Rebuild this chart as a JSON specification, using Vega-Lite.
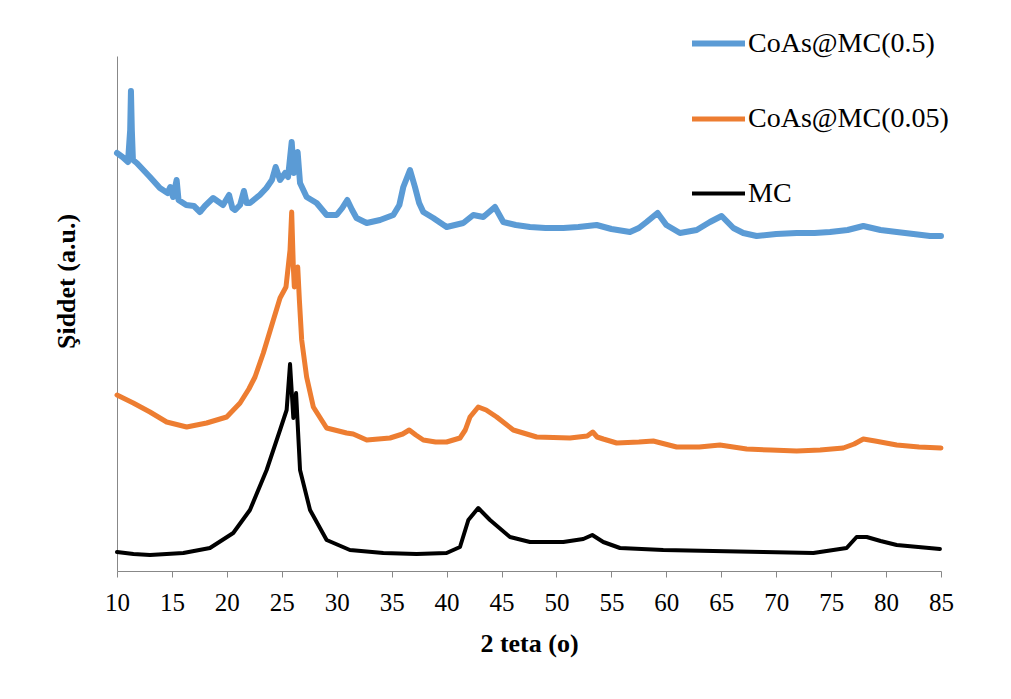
{
  "$schema": "https://vega.github.io/schema/vega-lite/v6.json",
  "width": 824,
  "height": 515,
  "autosize": {"type": "none"},
  "padding": {"left": 117, "top": 56, "right": 70, "bottom": 128},
  "background": "white",
  "config": {
    "view": {"stroke": null},
    "font": "Liberation Serif",
    "axis": {"grid": false, "domainColor": "#888888", "tickColor": "#888888", "labelColor": "#000000", "titleColor": "#000000", "labelFont": "Liberation Serif", "titleFont": "Liberation Serif"}
  },
  "data": {"values": [
    {"x":10.0,"y":418,"s":"CoAs@MC(0.5)"},{"x":10.5,"y":414,"s":"CoAs@MC(0.5)"},{"x":11.0,"y":409,"s":"CoAs@MC(0.5)"},{"x":11.2,"y":441,"s":"CoAs@MC(0.5)"},{"x":11.27,"y":480,"s":"CoAs@MC(0.5)"},{"x":11.35,"y":441,"s":"CoAs@MC(0.5)"},{"x":11.45,"y":411,"s":"CoAs@MC(0.5)"},{"x":11.8,"y":408,"s":"CoAs@MC(0.5)"},{"x":12.4,"y":401,"s":"CoAs@MC(0.5)"},{"x":13.0,"y":394,"s":"CoAs@MC(0.5)"},{"x":13.9,"y":383,"s":"CoAs@MC(0.5)"},{"x":14.6,"y":378,"s":"CoAs@MC(0.5)"},{"x":14.85,"y":384,"s":"CoAs@MC(0.5)"},{"x":15.1,"y":374,"s":"CoAs@MC(0.5)"},{"x":15.43,"y":391,"s":"CoAs@MC(0.5)"},{"x":15.6,"y":371,"s":"CoAs@MC(0.5)"},{"x":16.3,"y":366,"s":"CoAs@MC(0.5)"},{"x":17.0,"y":365,"s":"CoAs@MC(0.5)"},{"x":17.55,"y":359,"s":"CoAs@MC(0.5)"},{"x":18.0,"y":365,"s":"CoAs@MC(0.5)"},{"x":18.75,"y":373,"s":"CoAs@MC(0.5)"},{"x":19.65,"y":366,"s":"CoAs@MC(0.5)"},{"x":20.2,"y":376,"s":"CoAs@MC(0.5)"},{"x":20.5,"y":363,"s":"CoAs@MC(0.5)"},{"x":20.75,"y":361,"s":"CoAs@MC(0.5)"},{"x":21.2,"y":366,"s":"CoAs@MC(0.5)"},{"x":21.55,"y":380,"s":"CoAs@MC(0.5)"},{"x":21.8,"y":368,"s":"CoAs@MC(0.5)"},{"x":22.1,"y":368,"s":"CoAs@MC(0.5)"},{"x":23.0,"y":376,"s":"CoAs@MC(0.5)"},{"x":23.6,"y":383,"s":"CoAs@MC(0.5)"},{"x":24.1,"y":391,"s":"CoAs@MC(0.5)"},{"x":24.44,"y":404,"s":"CoAs@MC(0.5)"},{"x":24.84,"y":391,"s":"CoAs@MC(0.5)"},{"x":25.3,"y":398,"s":"CoAs@MC(0.5)"},{"x":25.57,"y":394,"s":"CoAs@MC(0.5)"},{"x":25.9,"y":429,"s":"CoAs@MC(0.5)"},{"x":26.1,"y":398,"s":"CoAs@MC(0.5)"},{"x":26.44,"y":419,"s":"CoAs@MC(0.5)"},{"x":26.66,"y":388,"s":"CoAs@MC(0.5)"},{"x":27.26,"y":374,"s":"CoAs@MC(0.5)"},{"x":28.17,"y":368,"s":"CoAs@MC(0.5)"},{"x":29.08,"y":356,"s":"CoAs@MC(0.5)"},{"x":29.99,"y":356,"s":"CoAs@MC(0.5)"},{"x":30.5,"y":363,"s":"CoAs@MC(0.5)"},{"x":30.96,"y":371,"s":"CoAs@MC(0.5)"},{"x":31.4,"y":361,"s":"CoAs@MC(0.5)"},{"x":31.8,"y":353,"s":"CoAs@MC(0.5)"},{"x":32.73,"y":348,"s":"CoAs@MC(0.5)"},{"x":33.94,"y":351,"s":"CoAs@MC(0.5)"},{"x":35.15,"y":356,"s":"CoAs@MC(0.5)"},{"x":35.7,"y":366,"s":"CoAs@MC(0.5)"},{"x":36.06,"y":384,"s":"CoAs@MC(0.5)"},{"x":36.67,"y":401,"s":"CoAs@MC(0.5)"},{"x":37.12,"y":384,"s":"CoAs@MC(0.5)"},{"x":37.5,"y":368,"s":"CoAs@MC(0.5)"},{"x":37.88,"y":359,"s":"CoAs@MC(0.5)"},{"x":38.79,"y":353,"s":"CoAs@MC(0.5)"},{"x":40.0,"y":344,"s":"CoAs@MC(0.5)"},{"x":41.52,"y":348,"s":"CoAs@MC(0.5)"},{"x":42.43,"y":356,"s":"CoAs@MC(0.5)"},{"x":43.34,"y":354,"s":"CoAs@MC(0.5)"},{"x":44.4,"y":364,"s":"CoAs@MC(0.5)"},{"x":45.16,"y":349,"s":"CoAs@MC(0.5)"},{"x":46.3,"y":346,"s":"CoAs@MC(0.5)"},{"x":47.59,"y":344,"s":"CoAs@MC(0.5)"},{"x":49.0,"y":343,"s":"CoAs@MC(0.5)"},{"x":50.62,"y":343,"s":"CoAs@MC(0.5)"},{"x":52.0,"y":344,"s":"CoAs@MC(0.5)"},{"x":53.66,"y":346,"s":"CoAs@MC(0.5)"},{"x":55.0,"y":342,"s":"CoAs@MC(0.5)"},{"x":56.69,"y":339,"s":"CoAs@MC(0.5)"},{"x":57.5,"y":343,"s":"CoAs@MC(0.5)"},{"x":58.2,"y":349,"s":"CoAs@MC(0.5)"},{"x":59.2,"y":358,"s":"CoAs@MC(0.5)"},{"x":60.0,"y":346,"s":"CoAs@MC(0.5)"},{"x":61.24,"y":338,"s":"CoAs@MC(0.5)"},{"x":62.76,"y":341,"s":"CoAs@MC(0.5)"},{"x":63.97,"y":349,"s":"CoAs@MC(0.5)"},{"x":65.03,"y":355,"s":"CoAs@MC(0.5)"},{"x":66.1,"y":343,"s":"CoAs@MC(0.5)"},{"x":67.0,"y":338,"s":"CoAs@MC(0.5)"},{"x":68.22,"y":335,"s":"CoAs@MC(0.5)"},{"x":70.0,"y":337,"s":"CoAs@MC(0.5)"},{"x":71.86,"y":338,"s":"CoAs@MC(0.5)"},{"x":73.5,"y":338,"s":"CoAs@MC(0.5)"},{"x":74.9,"y":339,"s":"CoAs@MC(0.5)"},{"x":76.5,"y":341,"s":"CoAs@MC(0.5)"},{"x":77.93,"y":345,"s":"CoAs@MC(0.5)"},{"x":79.5,"y":341,"s":"CoAs@MC(0.5)"},{"x":80.97,"y":339,"s":"CoAs@MC(0.5)"},{"x":82.5,"y":337,"s":"CoAs@MC(0.5)"},{"x":84.0,"y":335,"s":"CoAs@MC(0.5)"},{"x":85.0,"y":335,"s":"CoAs@MC(0.5)"},

    {"x":10.0,"y":176,"s":"CoAs@MC(0.05)"},{"x":11.48,"y":168,"s":"CoAs@MC(0.05)"},{"x":13.0,"y":159,"s":"CoAs@MC(0.05)"},{"x":14.52,"y":149,"s":"CoAs@MC(0.05)"},{"x":16.34,"y":144,"s":"CoAs@MC(0.05)"},{"x":18.16,"y":148,"s":"CoAs@MC(0.05)"},{"x":19.98,"y":154,"s":"CoAs@MC(0.05)"},{"x":21.2,"y":168,"s":"CoAs@MC(0.05)"},{"x":22.0,"y":182,"s":"CoAs@MC(0.05)"},{"x":22.56,"y":194,"s":"CoAs@MC(0.05)"},{"x":23.32,"y":218,"s":"CoAs@MC(0.05)"},{"x":24.23,"y":251,"s":"CoAs@MC(0.05)"},{"x":24.84,"y":273,"s":"CoAs@MC(0.05)"},{"x":25.38,"y":284,"s":"CoAs@MC(0.05)"},{"x":25.75,"y":321,"s":"CoAs@MC(0.05)"},{"x":25.9,"y":359,"s":"CoAs@MC(0.05)"},{"x":26.05,"y":304,"s":"CoAs@MC(0.05)"},{"x":26.14,"y":284,"s":"CoAs@MC(0.05)"},{"x":26.45,"y":304,"s":"CoAs@MC(0.05)"},{"x":26.6,"y":271,"s":"CoAs@MC(0.05)"},{"x":26.81,"y":231,"s":"CoAs@MC(0.05)"},{"x":27.26,"y":194,"s":"CoAs@MC(0.05)"},{"x":27.87,"y":164,"s":"CoAs@MC(0.05)"},{"x":29.08,"y":143,"s":"CoAs@MC(0.05)"},{"x":30.9,"y":138,"s":"CoAs@MC(0.05)"},{"x":31.5,"y":137,"s":"CoAs@MC(0.05)"},{"x":32.73,"y":131,"s":"CoAs@MC(0.05)"},{"x":34.85,"y":133,"s":"CoAs@MC(0.05)"},{"x":36.0,"y":137,"s":"CoAs@MC(0.05)"},{"x":36.6,"y":141,"s":"CoAs@MC(0.05)"},{"x":37.2,"y":136,"s":"CoAs@MC(0.05)"},{"x":37.88,"y":131,"s":"CoAs@MC(0.05)"},{"x":39.0,"y":129,"s":"CoAs@MC(0.05)"},{"x":40.0,"y":129,"s":"CoAs@MC(0.05)"},{"x":41.22,"y":133,"s":"CoAs@MC(0.05)"},{"x":41.7,"y":141,"s":"CoAs@MC(0.05)"},{"x":42.13,"y":154,"s":"CoAs@MC(0.05)"},{"x":42.88,"y":164,"s":"CoAs@MC(0.05)"},{"x":43.6,"y":161,"s":"CoAs@MC(0.05)"},{"x":44.56,"y":154,"s":"CoAs@MC(0.05)"},{"x":46.07,"y":141,"s":"CoAs@MC(0.05)"},{"x":48.2,"y":134,"s":"CoAs@MC(0.05)"},{"x":51.23,"y":133,"s":"CoAs@MC(0.05)"},{"x":52.8,"y":135,"s":"CoAs@MC(0.05)"},{"x":53.3,"y":139,"s":"CoAs@MC(0.05)"},{"x":53.7,"y":134,"s":"CoAs@MC(0.05)"},{"x":54.26,"y":132,"s":"CoAs@MC(0.05)"},{"x":55.48,"y":128,"s":"CoAs@MC(0.05)"},{"x":57.5,"y":129,"s":"CoAs@MC(0.05)"},{"x":58.81,"y":130,"s":"CoAs@MC(0.05)"},{"x":60.94,"y":124,"s":"CoAs@MC(0.05)"},{"x":63.0,"y":124,"s":"CoAs@MC(0.05)"},{"x":64.88,"y":126,"s":"CoAs@MC(0.05)"},{"x":67.31,"y":122,"s":"CoAs@MC(0.05)"},{"x":69.5,"y":121,"s":"CoAs@MC(0.05)"},{"x":71.86,"y":120,"s":"CoAs@MC(0.05)"},{"x":74.0,"y":121,"s":"CoAs@MC(0.05)"},{"x":76.1,"y":123,"s":"CoAs@MC(0.05)"},{"x":77.1,"y":127,"s":"CoAs@MC(0.05)"},{"x":77.93,"y":132,"s":"CoAs@MC(0.05)"},{"x":79.0,"y":130,"s":"CoAs@MC(0.05)"},{"x":80.97,"y":126,"s":"CoAs@MC(0.05)"},{"x":83.0,"y":124,"s":"CoAs@MC(0.05)"},{"x":85.0,"y":123,"s":"CoAs@MC(0.05)"},

    {"x":10.0,"y":19,"s":"MC"},{"x":11.5,"y":17,"s":"MC"},{"x":13.0,"y":16,"s":"MC"},{"x":16.04,"y":18,"s":"MC"},{"x":18.46,"y":23,"s":"MC"},{"x":20.58,"y":38,"s":"MC"},{"x":22.1,"y":61,"s":"MC"},{"x":23.62,"y":101,"s":"MC"},{"x":24.84,"y":141,"s":"MC"},{"x":25.44,"y":161,"s":"MC"},{"x":25.75,"y":207,"s":"MC"},{"x":26.05,"y":153,"s":"MC"},{"x":26.3,"y":178,"s":"MC"},{"x":26.66,"y":101,"s":"MC"},{"x":27.57,"y":61,"s":"MC"},{"x":29.08,"y":31,"s":"MC"},{"x":31.2,"y":21,"s":"MC"},{"x":34.24,"y":18,"s":"MC"},{"x":37.27,"y":17,"s":"MC"},{"x":40.0,"y":18,"s":"MC"},{"x":41.22,"y":24,"s":"MC"},{"x":41.98,"y":51,"s":"MC"},{"x":42.88,"y":63,"s":"MC"},{"x":43.95,"y":51,"s":"MC"},{"x":45.77,"y":34,"s":"MC"},{"x":47.59,"y":29,"s":"MC"},{"x":50.62,"y":29,"s":"MC"},{"x":52.44,"y":32,"s":"MC"},{"x":53.26,"y":36,"s":"MC"},{"x":54.26,"y":29,"s":"MC"},{"x":55.78,"y":23,"s":"MC"},{"x":59.72,"y":21,"s":"MC"},{"x":64.27,"y":20,"s":"MC"},{"x":68.82,"y":19,"s":"MC"},{"x":73.38,"y":18,"s":"MC"},{"x":76.41,"y":23,"s":"MC"},{"x":77.32,"y":34,"s":"MC"},{"x":78.24,"y":34,"s":"MC"},{"x":79.5,"y":30,"s":"MC"},{"x":80.97,"y":26,"s":"MC"},{"x":84.9,"y":22,"s":"MC"}
  ]},
  "mark": {"type": "line", "strokeJoin": "round", "strokeCap": "round"},
  "encoding": {
    "x": {"field": "x", "type": "quantitative",
      "scale": {"domain": [10, 85], "nice": false, "zero": false},
      "axis": {"values": [10,15,20,25,30,35,40,45,50,55,60,65,70,75,80,85], "title": "2 teta (o)", "titleFontSize": 26, "titleFontWeight": "bold", "titlePadding": 15, "labelFontSize": 25, "labelPadding": 13, "tickSize": 6, "labelFlush": false}},
    "y": {"field": "y", "type": "quantitative",
      "scale": {"domain": [0, 515], "nice": false},
      "axis": {"labels": false, "ticks": false, "title": "Şiddet (a.u.)", "titleFontSize": 26, "titleFontWeight": "bold", "titlePadding": 38, "titleY": 225}},
    "color": {"field": "s", "type": "nominal",
      "scale": {"domain": ["CoAs@MC(0.5)", "CoAs@MC(0.05)", "MC"], "range": ["#5B9BD5", "#ED7D31", "#000000"]},
      "legend": {"title": null, "orient": "none", "legendX": 572, "legendY": -42, "symbolType": "stroke", "symbolSize": 2809, "symbolStrokeWidth": 3.5, "labelFontSize": 28, "labelFont": "Liberation Serif", "labelColor": "#000000", "labelOffset": 0, "rowPadding": 32, "padding": 0, "labelLimit": 400}},
    "strokeWidth": {"field": "s", "type": "nominal",
      "scale": {"domain": ["CoAs@MC(0.5)", "CoAs@MC(0.05)", "MC"], "range": [6, 4, 5]}, "legend": null},
    "order": {"field": "x", "type": "quantitative"}
  }
}
